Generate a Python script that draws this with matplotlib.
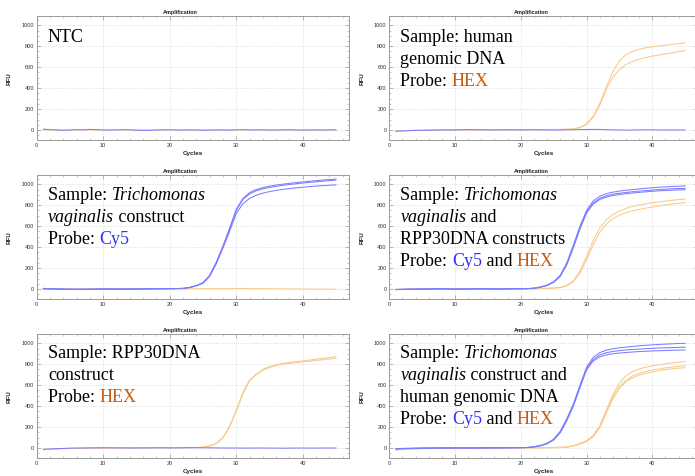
import numpy as np
import matplotlib
matplotlib.use("Agg")
import matplotlib.pyplot as plt
from matplotlib.ticker import MultipleLocator


# Cycle numbers and RFU readings
cycles = list(range(1, 46))

# NTC
ntc_cy5 = [8, 4, 1, -2, 0, 3, 2, 6, 4, 0, -1, 1, 3, 2, -2, -4, -3, 0, 1, 2, 0, -1, 1, 0, -3,
           -1, 0, 1, -2, 2, 3, 1, 0, 2, -1, 0, 1, 2, 0, -1, 0, 1, -1, 2, 0]
ntc_hex = [2, 0, -2, -3, -1, 0, 1, 0, -1, 0, 1, 0, -1, 0, 1, 0, -1, 0, 0, 1, 0, -1, 0, 1, 0,
           -1, 0, 0, 1, 0, -1, 0, 1, 0, 0, -1, 0, 1, 0, 0, -1, 0, 0, 1, 0]

# human genomic DNA
hgd_cy5 = [-12, -9, -6, -4, -3, -2, -1, 0, 0, 1, 2, 4, 3, 2, 1, 0, 1, 2, 1, 0, 1, 2, 1, 0, -1,
           0, 2, 3, 4, 5, 6, 5, 3, 1, 0, -1, 0, 1, 2, 1, 0, 0, 1, 0, 0]
hgd_hex_1 = [-8, -6, -4, -3, -2, -1, 0, 0, 1, 1, 1, 2, 2, 2, 2, 3, 3, 3, 3, 3, 4, 4, 4, 5, 5,
             6, 7, 10, 25, 60, 130, 250, 410, 560, 660, 720, 750, 770, 785, 795, 803, 810, 818, 825, 832]
hgd_hex_2 = [-10, -7, -5, -4, -3, -2, -1, -1, 0, 0, 1, 1, 1, 2, 2, 2, 2, 3, 3, 3, 3, 4, 4, 4, 5,
             5, 6, 9, 22, 55, 120, 235, 385, 505, 575, 625, 655, 675, 692, 705, 716, 727, 737, 748, 758]

# Trichomonas vaginalis construct
tv_cy5_1 = [6, 3, 1, 0, -1, -2, -2, -1, -1, 0, 0, -1, -1, 0, 0, 1, 1, 2, 2, 3, 4, 6, 15, 32, 60,
            130, 255, 410, 580, 760, 865, 920, 950, 968, 982, 993, 1001, 1009, 1016, 1023, 1029, 1035, 1040, 1045, 1050]
tv_cy5_2 = [4, 2, 0, -1, -2, -2, -3, -2, -1, -1, 0, 0, -1, 0, 1, 1, 2, 2, 3, 3, 4, 6, 15, 31, 58,
            126, 250, 405, 572, 750, 855, 908, 938, 956, 970, 981, 990, 998, 1005, 1012, 1018, 1024, 1030, 1035, 1040]
tv_cy5_3 = [2, 0, -1, -2, -3, -3, -2, -2, -1, 0, 0, -1, -1, 0, 0, 1, 1, 2, 2, 3, 3, 5, 14, 30, 55,
            120, 240, 390, 550, 720, 815, 865, 895, 915, 930, 942, 951, 959, 966, 972, 978, 983, 987, 991, 995]
tv_hex = [-2, -3, -3, -4, -4, -3, -3, -2, -2, -2, -1, -1, -1, 0, 0, 0, 1, 1, 1, 2, 2, 2, 3, 3, 3,
          4, 4, 4, 4, 5, 5, 4, 4, 3, 3, 2, 2, 1, 1, 0, 0, -1, -1, -2, -2]

# Trichomonas vaginalis and RPP30DNA constructs
tvr_cy5_1 = [-5, -3, -2, -1, 0, 1, 2, 2, 1, 0, 0, 1, 2, 3, 2, 1, 1, 2, 3, 3, 4, 8, 20, 38, 70,
             130, 250, 420, 600, 750, 840, 885, 910, 925, 935, 943, 950, 956, 962, 967, 972, 976, 979, 982, 985]
tvr_cy5_2 = [-6, -4, -2, -1, 0, 0, 1, 1, 0, -1, 0, 1, 1, 2, 1, 0, 1, 1, 2, 3, 3, 7, 18, 35, 66,
             124, 240, 405, 585, 735, 820, 865, 890, 905, 915, 922, 929, 935, 940, 945, 950, 954, 957, 960, 962]
tvr_cy5_3 = [-4, -3, -2, -2, -1, 0, 0, 1, 0, 0, -1, 0, 1, 1, 1, 0, 0, 1, 2, 2, 3, 7, 17, 33, 63,
             120, 232, 395, 572, 725, 810, 855, 878, 893, 902, 910, 917, 923, 928, 933, 937, 941, 944, 946, 948]
tvr_hex_1 = [-4, -3, -2, -2, -1, -1, 0, 0, 0, 0, 1, 1, 1, 1, 1, 2, 2, 2, 2, 3, 3, 4, 5, 7, 10,
             15, 35, 80, 170, 310, 460, 580, 660, 710, 745, 770, 788, 802, 814, 824, 832, 840, 847, 854, 860]
tvr_hex_2 = [-6, -4, -3, -2, -2, -1, -1, 0, 0, 0, 0, 1, 1, 1, 1, 1, 2, 2, 2, 2, 3, 3, 4, 6, 8,
             12, 30, 70, 150, 280, 420, 540, 620, 672, 705, 728, 745, 760, 772, 783, 793, 802, 810, 818, 825]

# RPP30DNA construct
rpp_cy5 = [-12, -9, -6, -4, -2, -1, 0, 1, 2, 2, 2, 1, 1, 0, 0, 1, 1, 2, 2, 1, 1, 2, 3, 3, 2,
           2, 1, 0, 0, 0, -1, -1, 0, 0, -1, -1, -2, -1, -1, 0, -1, -1, 0, 0, 0]
rpp_hex_1 = [-15, -11, -8, -5, -3, -2, -1, 0, 0, 0, 1, 1, 1, 1, 1, 2, 2, 2, 2, 2, 3, 3, 4, 5, 8,
             20, 45, 100, 210, 360, 530, 650, 705, 750, 778, 796, 808, 817, 825, 832, 840, 848, 856, 864, 873]
rpp_hex_2 = [-17, -13, -9, -6, -4, -3, -2, -1, -1, 0, 0, 0, 1, 1, 1, 1, 1, 2, 2, 2, 2, 3, 3, 4, 7,
             18, 42, 95, 200, 350, 515, 640, 700, 742, 770, 788, 800, 808, 815, 822, 829, 836, 843, 850, 857]

# Trichomonas vaginalis construct and human genomic DNA
mix_cy5_1 = [-6, -4, -3, -2, -1, 0, 0, 1, 1, 1, 0, 0, 1, 1, 2, 2, 2, 3, 3, 4, 5, 12, 25, 45, 85,
             160, 280, 420, 600, 770, 865, 910, 935, 948, 957, 964, 970, 976, 981, 985, 989, 992, 995, 998, 1000]
mix_cy5_2 = [-8, -5, -4, -3, -2, -1, -1, 0, 0, 1, 1, 0, 0, 1, 1, 2, 2, 2, 3, 3, 5, 11, 23, 42, 80,
             152, 270, 410, 590, 755, 845, 888, 910, 922, 930, 936, 941, 945, 949, 952, 955, 957, 959, 961, 962]
mix_cy5_3 = [-10, -7, -5, -3, -2, -2, -1, -1, 0, 0, 0, 0, 1, 1, 1, 1, 2, 2, 2, 3, 4, 10, 22, 40, 76,
             145, 260, 400, 575, 745, 830, 870, 890, 900, 907, 912, 917, 921, 924, 927, 929, 931, 933, 935, 936]
mix_hex_1 = [-15, -11, -8, -6, -4, -3, -2, -1, -1, 0, 0, 0, 1, 1, 1, 1, 1, 2, 2, 2, 2, 3, 3, 4, 5,
             7, 10, 22, 45, 70, 120, 210, 360, 510, 620, 690, 730, 755, 772, 784, 795, 805, 813, 820, 826]
mix_hex_2 = [-17, -13, -10, -7, -5, -4, -3, -2, -1, -1, 0, 0, 0, 1, 1, 1, 1, 1, 2, 2, 2, 2, 3, 3, 4,
             6, 9, 20, 40, 66, 112, 200, 345, 485, 585, 648, 688, 713, 730, 744, 755, 765, 773, 780, 787]
mix_hex_3 = [-19, -15, -11, -8, -6, -4, -3, -2, -2, -1, -1, 0, 0, 0, 1, 1, 1, 1, 1, 2, 2, 2, 2, 3, 4,
             5, 8, 18, 37, 62, 106, 192, 335, 470, 570, 632, 670, 696, 713, 727, 738, 748, 756, 762, 767]

# Panel annotations: each line is a list of (text, kind); kind '' / 'it' / 'cy5' / 'hex'
ntc_label = [[("NTC", "")]]
hgd_label = [[("Sample: human", "")],
             [("genomic DNA", "")],
             [("Probe: ", ""), ("HEX", "hex")]]
tv_label = [[("Sample: ", ""), ("Trichomonas", "it")],
            [("vaginalis", "it"), (" construct", "")],
            [("Probe: ", ""), ("Cy5", "cy5")]]
tvr_label = [[("Sample: ", ""), ("Trichomonas", "it")],
             [("vaginalis", "it"), (" and", "")],
             [("RPP30DNA constructs", "")],
             [("Probe: ", ""), ("Cy5", "cy5"), (" and ", ""), ("HEX", "hex")]]
rpp_label = [[("Sample: RPP30DNA", "")],
             [("construct", "")],
             [("Probe: ", ""), ("HEX", "hex")]]
mix_label = [[("Sample: ", ""), ("Trichomonas", "it")],
             [("vaginalis", "it"), (" construct and", "")],
             [("human genomic DNA", "")],
             [("Probe: ", ""), ("Cy5", "cy5"), (" and ", ""), ("HEX", "hex")]]

panels = [
    ([ntc_cy5], [ntc_hex], ntc_label),
    ([hgd_cy5], [hgd_hex_1, hgd_hex_2], hgd_label),
    ([tv_cy5_1, tv_cy5_2, tv_cy5_3], [tv_hex], tv_label),
    ([tvr_cy5_1, tvr_cy5_2, tvr_cy5_3], [tvr_hex_1, tvr_hex_2], tvr_label),
    ([rpp_cy5], [rpp_hex_1, rpp_hex_2], rpp_label),
    ([mix_cy5_1, mix_cy5_2, mix_cy5_3], [mix_hex_1, mix_hex_2, mix_hex_3], mix_label),
]

W, H = 695, 476
CURVE_BLUE = "#7c7cff"
CURVE_ORANGE = "#f8cb8c"
TEXT_COLORS = {"": "black", "it": "black", "cy5": "#2f2fff", "hex": "#c55a11"}

plt.rcParams["font.family"] = ["Liberation Sans", "DejaVu Sans"]

fig = plt.figure(figsize=(W / 100, H / 100), dpi=100)
fig.patch.set_facecolor("white")

# axes geometry in pixels (left edge, width, zero-line y per row)
col_left = [36.7, 389.3]
col_width = [312.6, 309.0]
ylabel_x = [11.7, 365.0]
row_zero = [130.0, 289.0, 448.0]
px_per_unit = 0.1047
y_lo, y_hi = -100, 1090
text_x = [48.0, 400.5]
text_base = [41.5, 200.0, 358.5]
LINE_STEP = 22.0


def seg_width(renderer, txt, kw):
    a = fig.text(0, 0, "|" + txt + "|", **kw)
    b = fig.text(0, 0, "||", **kw)
    w = a.get_window_extent(renderer).width - b.get_window_extent(renderer).width
    a.remove()
    b.remove()
    return w


def rich_text(x_px, y_px, lines):
    renderer = fig.canvas.get_renderer()
    for i, line in enumerate(lines):
        cx = x_px
        by = y_px + i * LINE_STEP
        for txt, kind in line:
            kw = dict(family="Liberation Serif", size=13, color=TEXT_COLORS[kind],
                      style="italic" if kind == "it" else "normal")
            fig.text(cx / W, 1 - by / H, txt, ha="left", va="baseline", **kw)
            cx += seg_width(renderer, txt, kw)


for i, (blue_curves, orange_curves, label) in enumerate(panels):
    row, col = divmod(i, 2)
    bottom_px = row_zero[row] - y_lo * px_per_unit
    height_px = (y_hi - y_lo) * px_per_unit
    ax = fig.add_axes([col_left[col] / W, 1 - bottom_px / H, col_width[col] / W, height_px / H])

    for c in orange_curves:
        ax.plot(cycles, c, color=CURVE_ORANGE, lw=0.75)
    for c in blue_curves:
        ax.plot(cycles, c, color=CURVE_BLUE, lw=0.75)

    ax.set_xlim(0, 47)
    ax.set_ylim(y_lo, y_hi)
    ax.xaxis.set_major_locator(MultipleLocator(10))
    ax.xaxis.set_minor_locator(MultipleLocator(2))
    ax.yaxis.set_major_locator(MultipleLocator(200))
    ax.yaxis.set_minor_locator(MultipleLocator(50))
    ax.tick_params(which="both", direction="in", top=True, right=True, colors="#999999",
                   labelcolor="#333333", labelsize=4, pad=2)
    ax.tick_params(which="major", length=3, width=0.5)
    ax.tick_params(which="minor", length=1.5, width=0.4)
    ax.grid(True, which="major", ls=":", lw=0.5, color="#cccccc")
    for s in ax.spines.values():
        s.set_color("#9a9a9a")
        s.set_linewidth(0.7)

    ax.set_title("Amplification", fontsize=4, fontweight="bold", x=0.46, pad=1.5, color="#222222")
    ax.set_xlabel("Cycles", fontsize=4.5, fontweight="bold", color="#222222")
    ax.set_ylabel("RFU", fontsize=4.5, fontweight="bold", color="#222222")
    ax.xaxis.set_label_coords(0.5, -0.085)
    ax.yaxis.set_label_coords((ylabel_x[col] - col_left[col]) / col_width[col], 0.5)

    rich_text(text_x[col], text_base[row], label)

fig.savefig("out.png", dpi=100)
